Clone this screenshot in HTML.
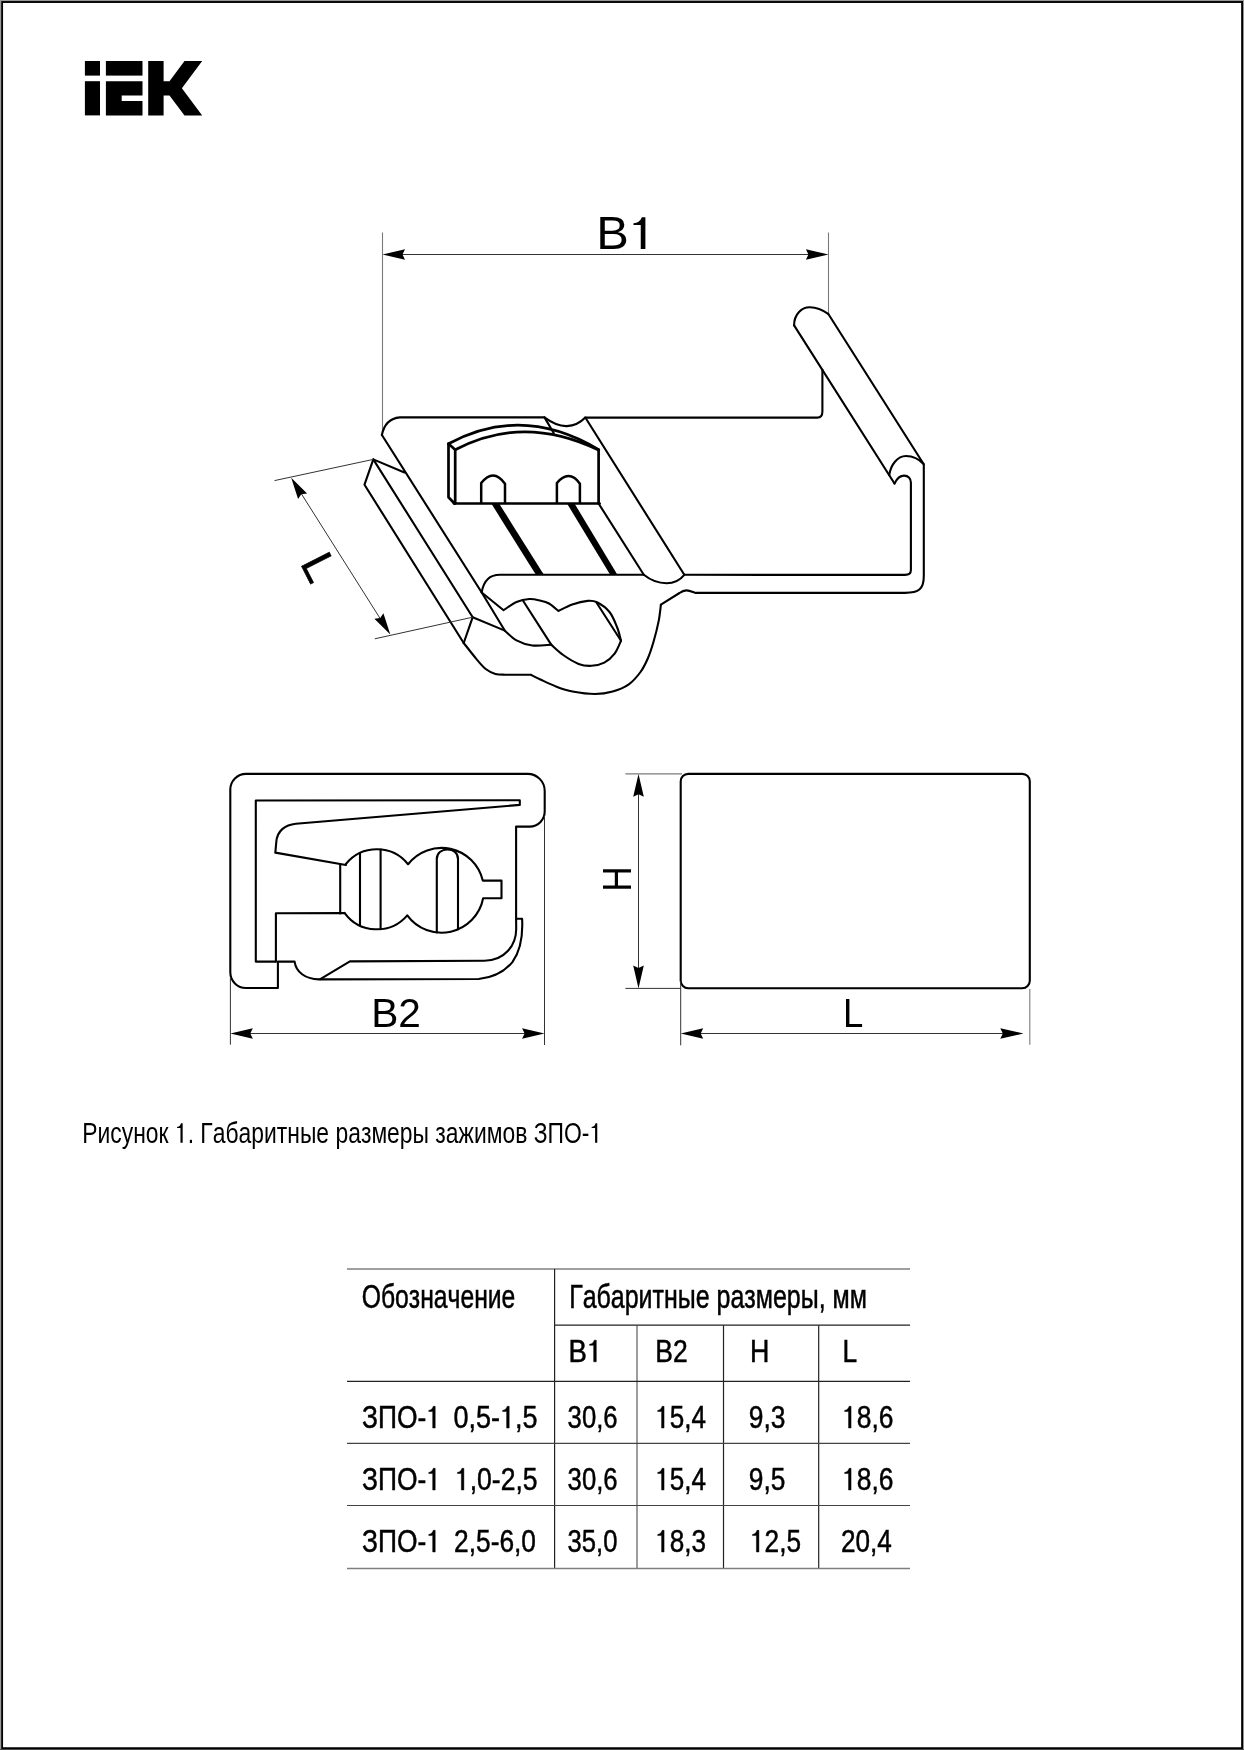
<!DOCTYPE html>
<html><head><meta charset="utf-8"><style>
html,body{margin:0;padding:0;background:#fff;}
body{width:1244px;height:1750px;overflow:hidden;}
svg{display:block;filter:grayscale(1);}
.t{font-family:"Liberation Sans",sans-serif;fill:#000;font-kerning:none;}
.m{fill:none;stroke:#000;stroke-width:2.1;stroke-linejoin:round;stroke-linecap:round;}
.mb{fill:none;stroke:#000;stroke-width:2.7;stroke-linecap:round;stroke-linejoin:round;}
.mc{fill:none;stroke:#000;stroke-width:2.5;stroke-linejoin:round;}
.dim{stroke:#333;stroke-width:1;fill:none;}
.ext{stroke:#7a7a7a;stroke-width:1.1;fill:none;}
.fill{fill:#000;stroke:none;}
.tg{stroke:#7f7f7f;stroke-width:1.5;}
.tk{stroke:#222;stroke-width:1.2;}
.tv{stroke:#3a3a3a;stroke-width:1;}
.th{stroke:#444;stroke-width:1.2;}
</style></head><body>
<svg width="1244" height="1750" viewBox="0 0 1244 1750">
<rect x="0" y="0" width="1244" height="1750" fill="#fff"/>
<rect x="0" y="0" width="1244" height="1" fill="#9a9a9a"/>
<rect x="0" y="0" width="1" height="1750" fill="#9a9a9a"/>
<rect x="1243" y="0" width="1" height="1750" fill="#9a9a9a"/>
<rect x="0" y="1749" width="1244" height="1" fill="#555"/>
<rect x="2.1" y="2" width="1240" height="1746.2" fill="none" stroke="#000" stroke-width="1.9"/>
<g fill="#000">
<rect x="84.9" y="61" width="15.1" height="14.6"/>
<rect x="84.9" y="81.2" width="15.1" height="34.2"/>
<rect x="105.9" y="61" width="36.6" height="14.6"/>
<path d="M105.9 81.2H142.5V95.5H121.7V101.1H142.5V115.4H105.9Z"/>
<path d="M148.2 60.9H163.6V81.2H169.5L184.5 60.9H202.2L181.9 88.2L202.2 115.4H184.5L169.5 95.5H163.6V115.4H148.2Z"/>
</g>
<line class="ext" x1="382.5" y1="232.5" x2="382.5" y2="435"/>
<line class="ext" x1="828.5" y1="232.5" x2="828.5" y2="313.8"/>
<line class="dim" x1="390" y1="254.5" x2="820" y2="254.5"/>
<polygon class="fill" points="382.5,254.5 405,259.8 402.5,254.5 405,249.2"/>
<polygon class="fill" points="828.5,254.5 805.9,249.2 808.4,254.5 805.9,259.8"/>
<g transform="translate(596.29,248.9) scale(1.0618,1)"><text class="t" x="0" y="0" font-size="46">B</text><path transform="translate(30.68,0) scale(0.02246)" d="M693 0L693 -1409L543 -1409C500 -1290 420 -1160 193 -1140L193 -1069L498 -1069L498 0Z"/></g>
<path class="m" d="M381.9 435 C383.5 427 388 418.5 399.9 417.4 L544.5 417.4 C552 423 560 426.3 566.8 426.1 C574.5 425.8 580.5 422.5 585.3 417.5 L817.3 417.6 C820.5 417.6 822.4 415.5 822.4 411.5 L822.4 369.7"/>
<path class="m" d="M381.9 435 L481.7 592.5 L504.9 630.7"/>
<path class="m" d="M404.4 472.5 L373.3 459.4 L364.5 484.7 L463.7 643"/>
<path class="m" d="M373.3 459.4 L472.7 617.2 L463.7 643"/>
<path class="m" d="M472.7 617.2 L504.2 630.4"/>
<line class="dim" x1="274.5" y1="480.6" x2="373.3" y2="459.4"/>
<line class="dim" x1="374.8" y1="638.8" x2="472.7" y2="617.2"/>
<line class="dim" x1="296" y1="485.3" x2="385.5" y2="627"/>
<polygon class="fill" points="291.2,477.7 298.08,499.07 301.29,494.17 307.12,493.53"/>
<polygon class="fill" points="390.3,634.5 383.42,613.13 380.21,618.03 374.38,618.67"/>
<path class="mb" d="M448.5 443.8 L448.5 497.3 L454.5 503.5"/>
<path class="mb" d="M448.5 443.8 L455.2 449.8 L455.2 503.5"/>
<path class="mb" d="M448.5 443.8 Q522.4 403.8 598.7 449.7"/>
<path class="mb" d="M455.2 449.8 Q523.2 413.7 598.5 450"/>
<path class="mb" d="M598.6 449.8 L598.6 503.5"/>
<path class="mb" d="M454 503.5 L599.6 503.5"/>
<path class="mc" d="M481.2 503.5 L481.2 483.1 C484 479.5 488 475.4 493 475.4 C498 475.4 502 479.5 505 483.7 L505 503.5"/>
<path class="mc" d="M556.9 503.5 L556.9 483.1 C559.7 479.5 563.7 476 568.5 476 C573.5 476 577 479.5 579.9 483.7 L579.9 503.5"/>
<polygon class="fill" points="491.3,503.5 499.1,503.5 543.9,574.8 535.9,574.8"/>
<polygon class="fill" points="567,503.5 574.5,503.5 617.4,574.8 610.2,574.8"/>
<path class="m" d="M544.5 417.4 L553.8 433.3"/>
<path class="m" d="M585.3 417.5 L684.3 574.8"/>
<path class="m" d="M598.6 503.5 L643.8 574.8"/>
<path class="m" d="M643.8 574.8 C650 579.8 658 583.2 666.5 583.2 C675 583.2 680.5 579.5 684.3 574.8"/>
<path class="m" d="M794.1 325.4 L894.5 483.5"/>
<path class="m" d="M828.2 313.8 L923.6 464"/>
<path class="m" d="M794.1 325.4 C794 314 802 307 810 307.2 C817 307.4 823.5 310.5 828.2 313.8"/>
<path class="m" d="M889.3 475.2 C890.5 465 897.5 456 906 456 C913.5 456 919.5 459.5 923.8 464.2 L923.8 576 C923.8 589 919 592.9 905 592.9 L695.9 592.9 C692 591.6 689 590.3 686.3 590.4 C683.5 590.5 681.5 591.6 679.5 593 L660.9 604.7"/>
<path class="m" d="M660.9 604.7 C660.52 607.48 659.82 615.27 658.6 621.4 C657.38 627.53 655.37 635.4 653.6 641.5 C651.83 647.6 650.18 652.92 648 658 C645.82 663.08 643.7 667.62 640.5 672 C637.3 676.38 633.43 681.05 628.8 684.3 C624.17 687.55 618.33 689.88 612.7 691.5 C607.07 693.12 601.7 694 595 694 C588.3 694 578.92 692.72 572.5 691.5 C566.08 690.28 561.85 688.7 556.5 686.7 C551.15 684.7 544.7 681.5 540.4 679.5 C536.1 677.5 532.32 675.5 530.7 674.7 L505 674.7 C503.4 674.57 498.62 674.85 495.4 673.9 C492.18 672.95 488.92 671.55 485.7 669 C482.48 666.45 479.77 662.93 476.1 658.6 C472.43 654.27 465.77 645.6 463.7 643"/>
<path class="m" d="M894.5 483.5 C897 478.3 900.5 475.6 904.2 475.6 C908 475.6 910.9 478.5 910.9 482.5 L910.9 570 C910.9 573.5 909 574.9 905 574.9 L684.3 574.8"/>
<path class="m" d="M481.7 592.5 C483.5 581 489 574.8 500 574.8 L643.8 574.8"/>
<path class="m" d="M481.7 592.5 L503.6 610.2 C505.75 608.83 512.22 603.87 516.5 602 C520.78 600.13 525.38 599.25 529.3 599 C533.22 598.75 536.72 599.75 540 600.5 C543.28 601.25 545.92 601.75 549 603.5 C552.08 605.25 556.92 609.75 558.5 611 C560.78 609.92 567.35 606.18 572.2 604.5 C577.05 602.82 583.47 601.27 587.6 600.9 C591.73 600.53 593.35 600.45 597 602.3 C600.65 604.15 606.13 607.8 609.5 612 C612.87 616.2 615.28 622.72 617.2 627.5 C619.12 632.28 620.37 638.5 621 640.7"/>
<path class="m" d="M522.9 600.5 L551.2 644.6 C553.2 646.33 558.63 651.78 563.2 655 C567.77 658.22 573.9 662.1 578.6 663.9 C583.3 665.7 587.12 666.02 591.4 665.8 C595.68 665.58 600.43 664.63 604.3 662.6 C608.17 660.57 611.82 657.25 614.6 653.6 C617.38 649.95 619.93 642.85 621 640.7"/>
<path class="m" d="M596.6 602.8 L621 640.7"/>
<path class="m" d="M504.9 630.7 C506.83 632.32 511.93 637.93 516.5 640.4 C521.07 642.87 526.52 644.8 532.3 645.5 C538.08 646.2 548.05 644.75 551.2 644.6"/>
<g transform="translate(301.4,566.2) rotate(63) scale(1.0000,1) translate(-3.73,0)"><text class="t" x="0" y="0" font-size="45.5" stroke="#000" stroke-width="0.5">L</text></g>
<path class="m" d="M277.9 961.6 L277.9 988 L246 988 A15.7 15.7 0 0 1 230.3 972.3 L230.3 789.6 A15.7 15.7 0 0 1 246 773.9 L527.7 773.9 A17 17 0 0 1 544.7 790.9 L544.7 811.6 A15 15 0 0 1 529.7 826.6 L516.1 826.6 L516.1 918.7 L522.1 918.7 C523 935 521 950 512.4 962.1 C505 971 493 977.5 478.7 979 L319 979.4 C305 979 296 972 294.6 961.6 L277.9 961.6"/>
<path class="m" d="M516.1 918.7 L516.2 929 C516.2 945 505 960.5 484.5 960.7 L349.9 961.4 L320.3 979.2"/>
<path class="m" d="M275.9 961.6 L255.8 961.6 L255.8 800.5 L519.8 800.2 L519.8 804.9 L295.9 823.7 C285 824.8 277 831 276.3 842 L275.3 852.6 L345.9 865"/>
<path class="m" d="M275.9 961.6 L275.9 913.3 L344.5 913.1"/>
<path class="m" d="M345.9 864.02 A40 40 0 0 1 408.07 864.23 A42.4 42.4 0 0 1 482.78 880.6 L501.5 880.6 L501.5 898.3 L483.14 898.3 A42.4 42.4 0 0 1 407.27 915.33 A40 40 0 0 1 344.5 912.76"/>
<path class="m" d="M340.2 864.32 L340.2 913.4"/>
<path class="m" d="M360 853.05 L360 925.55"/>
<path class="m" d="M380.6 849.47 L380.6 929.13"/>
<path class="m" d="M436.8 932.44 L436.8 858.9 C436.8 853 441.5 849.5 447.4 849.5 C453.5 849.5 458 853 458 858.9 L458 929.36"/>
<line class="dim" x1="230.4" y1="978" x2="230.4" y2="1044.7"/>
<line class="dim" x1="544.5" y1="815.7" x2="544.5" y2="1045"/>
<line class="dim" x1="240" y1="1033.5" x2="536" y2="1033.5"/>
<polygon class="fill" points="230.4,1033.5 252.8,1038.8 250.3,1033.5 252.8,1028.2"/>
<polygon class="fill" points="544.5,1033.5 522.1,1028.2 524.6,1033.5 522.1,1038.8"/>
<g transform="translate(371.17,1027) scale(1.0153,1)"><text class="t" x="0" y="0" font-size="40">B2</text></g>
<rect class="m" x="680.7" y="773.9" width="349.1" height="214.3" rx="7.5"/>
<line class="ext" x1="625.4" y1="773.9" x2="682" y2="773.9"/>
<line class="dim" x1="625.4" y1="988.4" x2="681" y2="988.4"/>
<line class="dim" x1="638.5" y1="785" x2="638.5" y2="978"/>
<polygon class="fill" points="638.5,773.9 633.2,796.7 638.5,794.2 643.8,796.7"/>
<polygon class="fill" points="638.5,988.4 643.8,965.6 638.5,968.1 633.2,965.6"/>
<line class="dim" x1="680.7" y1="981" x2="680.7" y2="1045.3"/>
<line class="ext" x1="1029.8" y1="989" x2="1029.8" y2="1044.7"/>
<line class="dim" x1="690" y1="1033.5" x2="1015" y2="1033.5"/>
<polygon class="fill" points="680.7,1033.5 703.2,1038.8 700.7,1033.5 703.2,1028.2"/>
<polygon class="fill" points="1023.5,1033.5 1000.3,1028.2 1002.8,1033.5 1000.3,1038.8"/>
<g transform="translate(843,1027) scale(0.9129,1)"><text class="t" x="0" y="0" font-size="40">L</text></g>
<g transform="translate(630.5,888.6) rotate(-90) scale(0.8638,1) translate(-3.28,0)"><text class="t" x="0" y="0" font-size="40">H</text></g>
<g transform="translate(82.22,1142.8) scale(0.8004,1)"><text class="t" x="0" y="0" font-size="28.6">Рисунок </text><path transform="translate(115.81,0) scale(0.01396)" d="M693 0L693 -1409L543 -1409C500 -1290 420 -1160 193 -1140L193 -1069L498 -1069L498 0Z"/><text class="t" x="131.72" y="0" font-size="28.6">. Габаритные размеры зажимов ЗПО-</text><path transform="translate(633.81,0) scale(0.01396)" d="M693 0L693 -1409L543 -1409C500 -1290 420 -1160 193 -1140L193 -1069L498 -1069L498 0Z"/></g>
<g>
<line class="tg" x1="347" y1="1269" x2="910" y2="1269"/>
<line class="tk" x1="554.6" y1="1269" x2="554.6" y2="1568.5"/>
<line class="tk" x1="554.6" y1="1325.2" x2="910" y2="1325.2"/>
<line class="tv" x1="637" y1="1325.2" x2="637" y2="1568.5"/>
<line class="tk" x1="723.5" y1="1325.2" x2="723.5" y2="1568.5"/>
<line class="tk" x1="818.7" y1="1325.2" x2="818.7" y2="1568.5"/>
<line class="tk" x1="347" y1="1381.4" x2="910" y2="1381.4"/>
<line class="th" x1="347" y1="1443.3" x2="910" y2="1443.3"/>
<line class="th" x1="347" y1="1505.5" x2="910" y2="1505.5"/>
<line class="tg" x1="347" y1="1568.5" x2="910" y2="1568.5"/>
</g>
<g transform="translate(361.73,1307.6) scale(0.7604,1)"><text class="t" x="0" y="0" font-size="32.5" stroke="#000" stroke-width="0.5">Обозначение</text></g>
<g transform="translate(569.15,1307.6) scale(0.7686,1)"><text class="t" x="0" y="0" font-size="32.5" stroke="#000" stroke-width="0.5">Габаритные размеры, мм</text></g>
<g transform="translate(568.53,1361.8) scale(0.8767,1)"><text class="t" x="0" y="0" font-size="31.5" stroke="#000" stroke-width="0.5">B</text><path transform="translate(21.01,0) scale(0.01538)" d="M693 0L693 -1409L543 -1409C500 -1290 420 -1160 193 -1140L193 -1069L498 -1069L498 0Z" stroke="#000" stroke-width="32.51"/></g>
<g transform="translate(655.23,1361.8) scale(0.8411,1)"><text class="t" x="0" y="0" font-size="31.5" stroke="#000" stroke-width="0.5">B2</text></g>
<g transform="translate(749.9,1361.8) scale(0.8525,1)"><text class="t" x="0" y="0" font-size="31.5" stroke="#000" stroke-width="0.5">H</text></g>
<g transform="translate(842.54,1361.8) scale(0.8352,1)"><text class="t" x="0" y="0" font-size="31.5" stroke="#000" stroke-width="0.5">L</text></g>
<g transform="translate(362.04,1428) scale(0.8379,1)"><text class="t" x="0" y="0" font-size="31.5" stroke="#000" stroke-width="0.5">ЗПО-</text><path transform="translate(76.66,0) scale(0.01538)" d="M693 0L693 -1409L543 -1409C500 -1290 420 -1160 193 -1140L193 -1069L498 -1069L498 0Z" stroke="#000" stroke-width="32.51"/></g>
<g transform="translate(453.44,1428) scale(0.8585,1)"><text class="t" x="0" y="0" font-size="31.5" stroke="#000" stroke-width="0.5">0,5-</text><path transform="translate(54.28,0) scale(0.01538)" d="M693 0L693 -1409L543 -1409C500 -1290 420 -1160 193 -1140L193 -1069L498 -1069L498 0Z" stroke="#000" stroke-width="32.51"/><text class="t" x="71.8" y="0" font-size="31.5" stroke="#000" stroke-width="0.5">,5</text></g>
<g transform="translate(567.62,1428) scale(0.8157,1)"><text class="t" x="0" y="0" font-size="31.5" stroke="#000" stroke-width="0.5">30,6</text></g>
<g transform="translate(655.24,1428) scale(0.8273,1)"><path transform="translate(0,0) scale(0.01538)" d="M693 0L693 -1409L543 -1409C500 -1290 420 -1160 193 -1140L193 -1069L498 -1069L498 0Z" stroke="#000" stroke-width="32.51"/><text class="t" x="17.52" y="0" font-size="31.5" stroke="#000" stroke-width="0.5">5,4</text></g>
<g transform="translate(748.76,1428) scale(0.8380,1)"><text class="t" x="0" y="0" font-size="31.5" stroke="#000" stroke-width="0.5">9,3</text></g>
<g transform="translate(842.11,1428) scale(0.8393,1)"><path transform="translate(0,0) scale(0.01538)" d="M693 0L693 -1409L543 -1409C500 -1290 420 -1160 193 -1140L193 -1069L498 -1069L498 0Z" stroke="#000" stroke-width="32.51"/><text class="t" x="17.52" y="0" font-size="31.5" stroke="#000" stroke-width="0.5">8,6</text></g>
<g transform="translate(362.04,1490) scale(0.8379,1)"><text class="t" x="0" y="0" font-size="31.5" stroke="#000" stroke-width="0.5">ЗПО-</text><path transform="translate(76.66,0) scale(0.01538)" d="M693 0L693 -1409L543 -1409C500 -1290 420 -1160 193 -1140L193 -1069L498 -1069L498 0Z" stroke="#000" stroke-width="32.51"/></g>
<g transform="translate(454.9,1490) scale(0.8435,1)"><path transform="translate(0,0) scale(0.01538)" d="M693 0L693 -1409L543 -1409C500 -1290 420 -1160 193 -1140L193 -1069L498 -1069L498 0Z" stroke="#000" stroke-width="32.51"/><text class="t" x="17.52" y="0" font-size="31.5" stroke="#000" stroke-width="0.5">,0-2,5</text></g>
<g transform="translate(567.62,1490) scale(0.8157,1)"><text class="t" x="0" y="0" font-size="31.5" stroke="#000" stroke-width="0.5">30,6</text></g>
<g transform="translate(655.24,1490) scale(0.8273,1)"><path transform="translate(0,0) scale(0.01538)" d="M693 0L693 -1409L543 -1409C500 -1290 420 -1160 193 -1140L193 -1069L498 -1069L498 0Z" stroke="#000" stroke-width="32.51"/><text class="t" x="17.52" y="0" font-size="31.5" stroke="#000" stroke-width="0.5">5,4</text></g>
<g transform="translate(748.76,1490) scale(0.8368,1)"><text class="t" x="0" y="0" font-size="31.5" stroke="#000" stroke-width="0.5">9,5</text></g>
<g transform="translate(842.11,1490) scale(0.8393,1)"><path transform="translate(0,0) scale(0.01538)" d="M693 0L693 -1409L543 -1409C500 -1290 420 -1160 193 -1140L193 -1069L498 -1069L498 0Z" stroke="#000" stroke-width="32.51"/><text class="t" x="17.52" y="0" font-size="31.5" stroke="#000" stroke-width="0.5">8,6</text></g>
<g transform="translate(362.04,1552) scale(0.8379,1)"><text class="t" x="0" y="0" font-size="31.5" stroke="#000" stroke-width="0.5">ЗПО-</text><path transform="translate(76.66,0) scale(0.01538)" d="M693 0L693 -1409L543 -1409C500 -1290 420 -1160 193 -1140L193 -1069L498 -1069L498 0Z" stroke="#000" stroke-width="32.51"/></g>
<g transform="translate(454.08,1552) scale(0.8357,1)"><text class="t" x="0" y="0" font-size="31.5" stroke="#000" stroke-width="0.5">2,5-6,0</text></g>
<g transform="translate(567.62,1552) scale(0.8135,1)"><text class="t" x="0" y="0" font-size="31.5" stroke="#000" stroke-width="0.5">35,0</text></g>
<g transform="translate(655.23,1552) scale(0.8305,1)"><path transform="translate(0,0) scale(0.01538)" d="M693 0L693 -1409L543 -1409C500 -1290 420 -1160 193 -1140L193 -1069L498 -1069L498 0Z" stroke="#000" stroke-width="32.51"/><text class="t" x="17.52" y="0" font-size="31.5" stroke="#000" stroke-width="0.5">8,3</text></g>
<g transform="translate(750.03,1552) scale(0.8331,1)"><path transform="translate(0,0) scale(0.01538)" d="M693 0L693 -1409L543 -1409C500 -1290 420 -1160 193 -1140L193 -1069L498 -1069L498 0Z" stroke="#000" stroke-width="32.51"/><text class="t" x="17.52" y="0" font-size="31.5" stroke="#000" stroke-width="0.5">2,5</text></g>
<g transform="translate(840.89,1552) scale(0.8299,1)"><text class="t" x="0" y="0" font-size="31.5" stroke="#000" stroke-width="0.5">20,4</text></g>
</svg>
</body></html>
